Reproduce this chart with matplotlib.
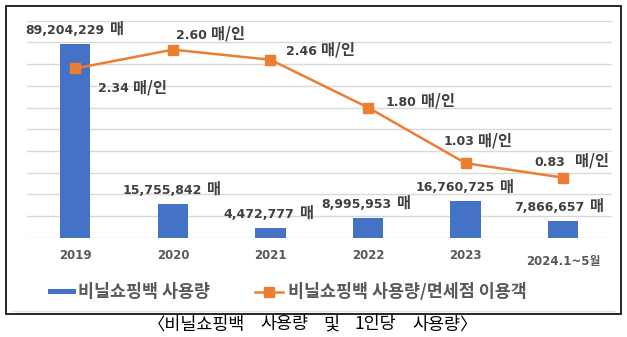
import matplotlib
matplotlib.use("Agg")
import matplotlib.pyplot as plt
from matplotlib.patches import Rectangle
from matplotlib.lines import Line2D
from matplotlib.offsetbox import TextArea, HPacker, AnnotationBbox

plt.rcParams['font.family'] = ['DejaVu Sans', 'Noto Sans CJK KR']

# ---- data ----
years = ["2019", "2020", "2021", "2022", "2023", "2024.1~5월"]
bag_usage = [89204229, 15755842, 4472777, 8995953, 16760725, 7866657]
per_person = [2.34, 2.60, 2.46, 1.80, 1.03, 0.83]
bag_unit = "매"
rate_unit = "매/인"
bar_legend = "비닐쇼핑백 사용량"
line_legend = "비닐쇼핑백 사용량/면세점 이용객"
caption_words = ["〈비닐쇼핑백", "사용량", "및", "1인당", "사용량〉"]

BLUE = "#4472C4"
ORANGE = "#ED7D31"
LABEL = "#404040"
TICK = "#595959"
GRID = "#D9D9D9"
KR = ['Noto Sans CJK KR', 'DejaVu Sans']

W, H = 627, 337
fig = plt.figure(figsize=(W / 100, H / 100), dpi=100)


def fp(x, y):
    """pixel position (from top-left) -> figure fraction"""
    return x / W, 1 - y / H


def value_label(axis, xy, number, unit, offset, sep=3.0):
    num = TextArea(number, textprops=dict(fontsize=9, fontweight='bold',
                                          color=LABEL, family='DejaVu Sans'))
    uni = TextArea(unit, textprops=dict(fontsize=11, fontweight='bold',
                                        color=LABEL, family=KR))
    box = HPacker(children=[num, uni], align='baseline', pad=0, sep=sep)
    ab = AnnotationBbox(box, xy, xybox=offset, xycoords='data',
                        boxcoords='offset pixels', frameon=False, pad=0,
                        box_alignment=(0.5, 0.5), zorder=6)
    axis.add_artist(ab)


left, right, top, base = 26.5, 612.0, 20.7, 237.7
ax = fig.add_axes([left / W, 1 - base / H, (right - left) / W, (base - top) / H])
ax2 = ax.twinx()

x = list(range(len(years)))
ax.bar(x, bag_usage, width=0.31, color=BLUE, zorder=2)
ax.set_xlim(-0.5, len(years) - 0.5)
ax.set_ylim(0, 100_000_000)
ax.set_yticks([i * 10_000_000 for i in range(11)])
ax.grid(axis='y', color=GRID, linewidth=1.0, zorder=0)
ax.set_axisbelow(True)

ax2.plot(x, per_person, color=ORANGE, linewidth=1.8, marker='s',
         markersize=6.5, zorder=3)
ax2.set_ylim(0, 3)

for a in (ax, ax2):
    for s in a.spines.values():
        s.set_visible(False)
    a.tick_params(left=False, right=False, bottom=False,
                  labelleft=False, labelright=False, labelbottom=False)

# category labels under the axis
tick_drop = [18, 18, 18, 18, 18, 24]
for i, (lab, d) in enumerate(zip(years, tick_drop)):
    ax.annotate(lab, xy=(i, 0), xycoords=('data', 'axes fraction'),
                xytext=(0, -d), textcoords='offset pixels',
                ha='center', va='center', fontsize=8.5,
                fontweight='bold', color=TICK)

# bar value labels
bar_dx = [-1, -1, -2, -2, -1, -4]
for i, (v, dx) in enumerate(zip(bag_usage, bar_dx)):
    value_label(ax, (i, v), f"{v:,}", bag_unit, (dx, 15), sep=4)

# per-person labels
line_off = [(57, -19), (38, 16), (50, 10), (52, 7), (12, 23), (8, 17)]
line_sep = [3, 3, 3, 3, 3, 7]
for i, (r, off, sp) in enumerate(zip(per_person, line_off, line_sep)):
    value_label(ax2, (i, r), f"{r:.2f}", rate_unit, off, sep=sp)

# legend
ly = 291.7
x0, y0 = fp(48, ly + 2.5)
x1, y1 = fp(76, ly - 2.5)
fig.add_artist(Rectangle((x0, y0), x1 - x0, y1 - y0, transform=fig.transFigure,
                         facecolor=BLUE, edgecolor='none'))
tx, ty = fp(78, ly)
fig.text(tx, ty, bar_legend, ha='left', va='center', fontsize=12.5,
         fontweight='bold', color=TICK, family=KR)
a0, b0 = fp(255, ly)
a1, _ = fp(283, ly)
fig.add_artist(Line2D([a0, a1], [b0, b0], transform=fig.transFigure,
                      color=ORANGE, linewidth=1.8))
m0, _ = fp(269, ly)
fig.add_artist(Line2D([m0], [b0], transform=fig.transFigure, color=ORANGE,
                      marker='s', markersize=6.5, linestyle='none'))
tx, ty = fp(288, ly)
fig.text(tx, ty, line_legend, ha='left', va='center', fontsize=12.5,
         fontweight='bold', color=TICK, family=KR)

# frame around the chart
g0, gy = fp(13, 310.7)
g1, _ = fp(614, 310.7)
fig.add_artist(Line2D([g0, g1], [gy, gy], transform=fig.transFigure,
                      color="#E0E0E0", linewidth=1.0))
fx0, fy0 = fp(6, 314)
fx1, fy1 = fp(621, 6)
fig.add_artist(Rectangle((fx0, fy0), fx1 - fx0, fy1 - fy0,
                         transform=fig.transFigure, facecolor='none',
                         edgecolor='black', linewidth=1.2))

# caption
words = [TextArea(w, textprops=dict(fontsize=12.5, color='black', family=KR,
                                    fontweight='light'))
         for w in caption_words]
cap = HPacker(children=words, align='baseline', pad=0, sep=11)
fig.add_artist(AnnotationBbox(cap, fp(312.5, 324.5), xycoords='figure fraction',
                              frameon=False, pad=0, box_alignment=(0.5, 0.5)))

fig.savefig("out.png", dpi=100)
